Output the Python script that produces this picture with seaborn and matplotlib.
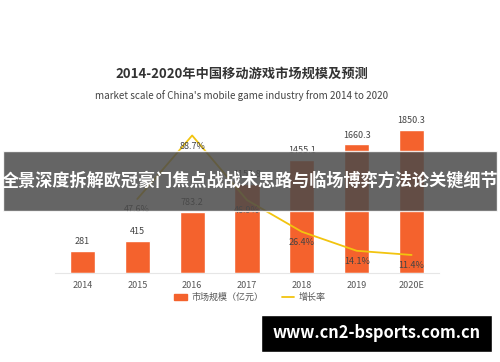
import numpy as np
import pandas as pd
import seaborn as sns
import matplotlib.pyplot as plt
from matplotlib.patches import Rectangle, Patch
from matplotlib.lines import Line2D

years = ["2014", "2015", "2016", "2017", "2018", "2019", "2020E"]
market_size = [281, 415, 783.2, 1150.8, 1455.1, 1660.3, 1850.3]
growth_years = ["2015", "2016", "2017", "2018", "2019", "2020E"]
growth_rate = [47.6, 88.7, 46.9, 26.4, 14.1, 11.4]

bar_color = "#f4622d"
line_color = "#f2c40f"

sns.set_style("white")
plt.rcParams["font.family"] = ["Noto Sans CJK SC", "DejaVu Sans"]

fig = plt.figure(figsize=(5, 3.62), dpi=100)
ax = fig.add_axes([0.11, 0.247, 0.768, 0.427])

df = pd.DataFrame({"year": years, "size": market_size})
sns.barplot(data=df, x="year", y="size", color=bar_color, width=0.46,
            saturation=1, ax=ax)
ax.set_ylim(0, 2000)
ax.set_xlim(-0.5, 6.5)
for i, v in enumerate(market_size):
    ax.text(i, v + 60, f"{v:g}", ha="center", va="bottom", fontsize=6.5, color="#444444")

ax2 = ax.twinx()
gdf = pd.DataFrame({"pos": [years.index(y) for y in growth_years], "rate": growth_rate})
sns.lineplot(data=gdf, x="pos", y="rate", color=line_color, linewidth=1.3, ax=ax2)
ax2.set_ylim(0, 100)
for p, r in zip(gdf["pos"], growth_rate):
    ax2.text(p, r - 4, f"{r}%", ha="center", va="top", fontsize=6.5, color="#444444")

for a in (ax, ax2):
    a.set_xlabel("")
    a.set_ylabel("")
    a.set_yticks([])
    for s in a.spines.values():
        s.set_visible(False)
ax.spines["bottom"].set_visible(True)
ax.spines["bottom"].set_color("#e6e6e6")
ax.spines["bottom"].set_linewidth(0.8)
ax.tick_params(axis="x", length=0, labelsize=6.5, colors="#555555", pad=6)

handles = [Patch(color=bar_color), Line2D([0], [0], color=line_color, linewidth=1.3)]
fig.legend(handles, ["市场规模（亿元）", "增长率"], loc="center", bbox_to_anchor=(0.5, 0.178),
           ncol=2, frameon=False, fontsize=6.5, handlelength=1.4, handleheight=0.8,
           handletextpad=0.5, columnspacing=2.0, labelcolor="#555555")

fig.text(0.484, 0.796, "2014-2020年中国移动游戏市场规模及预测", ha="center", va="center",
         fontsize=9.5, fontweight="bold", color="#333333")
fig.text(0.484, 0.737, "market scale of China's mobile game industry from 2014 to 2020",
         ha="center", va="center", fontsize=7.1, color="#444444")

# banner overlay
fig.patches.append(Rectangle((0.006, 0.417), 0.988, 0.166, transform=fig.transFigure,
                             facecolor="#4a4a4a", alpha=0.85, zorder=10))
fig.text(0.5, 0.5, "全景深度拆解欧冠豪门焦点战战术思路与临场博弈方法论关键细节", ha="center",
         va="center", fontsize=12.3, fontweight="bold", color="white", zorder=11)

# watermark box
fig.patches.append(Rectangle((0.522, 0.028), 0.462, 0.102, transform=fig.transFigure,
                             facecolor="black", zorder=10))
fig.text(0.753, 0.079, "www.cn2-bsports.com.cn", ha="center", va="center",
         fontsize=11.8, fontweight="bold", color="white", zorder=11)

fig.savefig("out.png", dpi=100)
